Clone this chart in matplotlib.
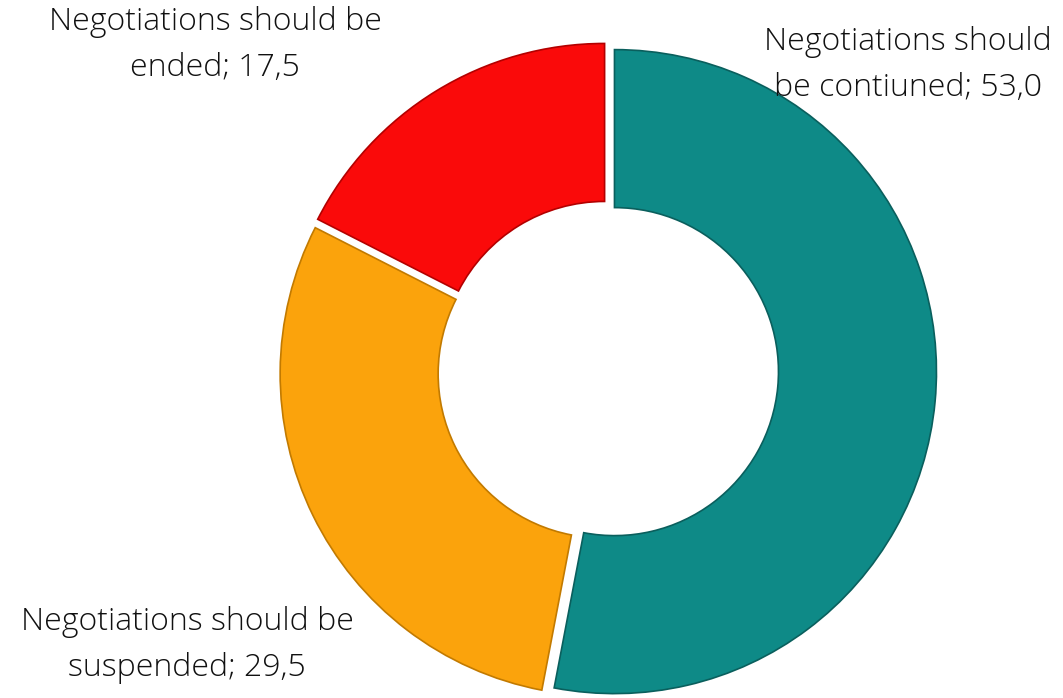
import matplotlib.pyplot as plt
from matplotlib import font_manager

# =========================================================
# DATA
# =========================================================

labels = [
    "Negotiations should\nbe contiuned; 53,0",
    "Negotiations should be\nsuspended; 29,5",
    "Negotiations should be\nended; 17,5",
]
values = [53.0, 29.5, 17.5]
colors = ["#0E8A87", "#FBA30C", "#FA0A0A"]
edge_colors = ["#0A5F5D", "#C27A00", "#B30000"]

# =========================================================
# FONT (prefer a light cut, like Calibri Light)
# =========================================================

family, weight = "Lato", "normal"
for name in ["Open Sans", "Lato", "Roboto"]:
    if any(f.name == name and f.weight == 300 for f in font_manager.fontManager.ttflist):
        family, weight = name, 300
        break

W, H = 1063, 698

fig = plt.figure(figsize=(W / 100, H / 100), dpi=100)
ax = fig.add_axes([0, 0, 1, 1])

radius = 322
cx, cy = 608, H - 371

# explode is in data units (pixels here), not a fraction of radius
wedges, _ = ax.pie(
    values,
    colors=colors,
    startangle=90,
    counterclock=False,
    radius=radius,
    center=(cx, cy),
    explode=[6.5, 6.5, 6.5],
    wedgeprops=dict(width=158, linewidth=1.2),
    frame=True,
)
for w, ec in zip(wedges, edge_colors):
    w.set_edgecolor(ec)

ax.set_xlim(0, W)
ax.set_ylim(0, H)
ax.set_aspect("equal")
ax.axis("off")

# label centres in pixel space (x, y from top)
label_pos = [(908, 65), (187, 645), (215, 45)]

for text, (x, y) in zip(labels, label_pos):
    ax.text(
        x,
        H - y,
        text,
        ha="center",
        va="center",
        multialignment="center",
        fontsize=23,
        family=family,
        fontweight=weight,
        color="#111111",
        linespacing=1.55,
    )

fig.savefig("out.png", dpi=100)
